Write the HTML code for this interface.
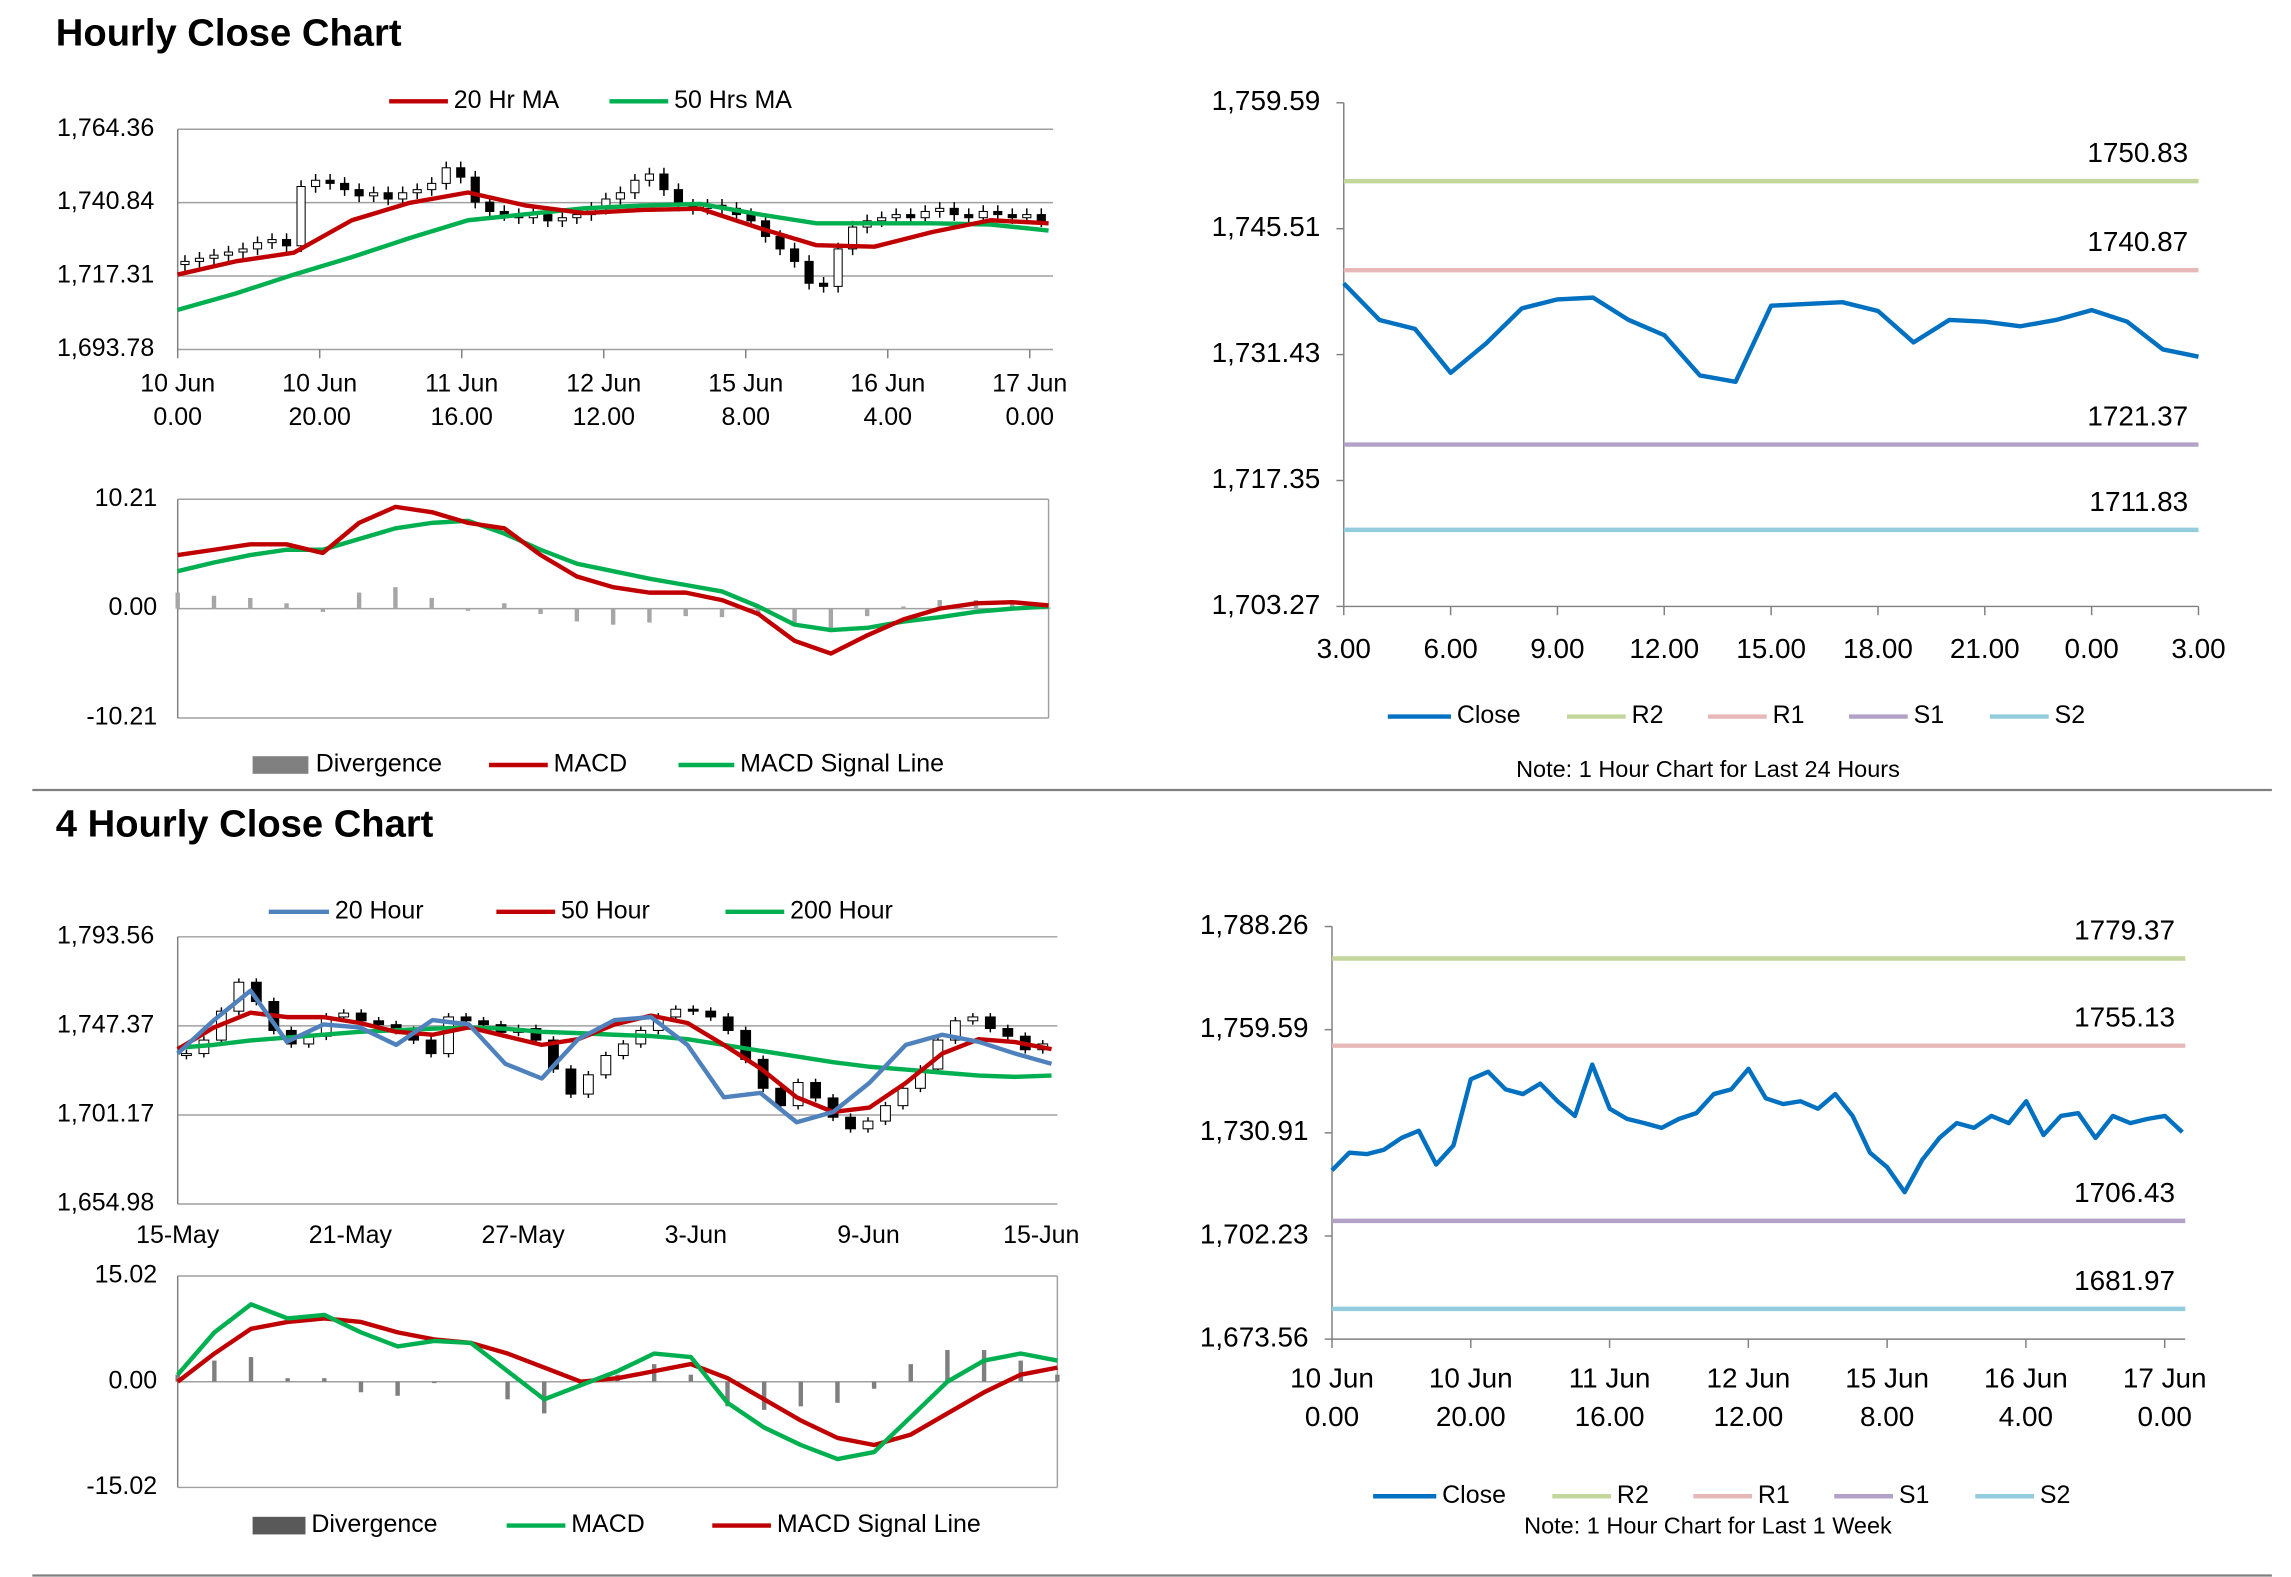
<!DOCTYPE html>
<html><head><meta charset="utf-8"><style>
html,body{margin:0;padding:0;background:#fff;}
svg{display:block;font-family:"Liberation Sans",Arial,sans-serif;}
</style></head><body>
<svg id="s" width="2291" height="1577" viewBox="0 0 1560 1074" preserveAspectRatio="none" xmlns="http://www.w3.org/2000/svg"></svg>
<script>
// ===== DATA =====
const h1Close=[1722,1723,1724,1725,1726,1728,1729,1727,1746,1748,1747,1745,1743,1744,1742,1744,1745,1747,1752,1749,1741,1738,1737,1736,1737,1735,1736,1737,1739,1742,1744,1748,1750,1745,1740,1739,1740,1739,1737,1735,1730,1726,1722,1715,1714,1726,1733,1735,1736,1737,1736,1738,1739,1737,1736,1738,1737,1736,1737,1735];
const h1MA20=[1717.8,1722.0,1724.8,1735.2,1740.8,1744.1,1739.9,1737.5,1738.5,1738.9,1732.8,1727.2,1726.7,1731.4,1735.2,1734.2];
const h1MA50=[1706.5,1711.7,1717.8,1723.4,1729.5,1735.2,1737.1,1739.0,1739.9,1740.4,1737.1,1734.2,1734.2,1734.2,1733.8,1731.9];
const h1Ticks=[1764.36,1740.84,1717.31,1693.78];
const h1XLabels=[["10 Jun","0.00"],["10 Jun","20.00"],["11 Jun","16.00"],["12 Jun","12.00"],["15 Jun","8.00"],["16 Jun","4.00"],["17 Jun","0.00"]];
const m1Macd=[5,5.5,6,6,5.2,8,9.5,9,8,7.5,5,3,2,1.5,1.5,0.8,-0.5,-3,-4.2,-2.5,-1,0,0.5,0.6,0.3];
const m1Signal=[3.5,4.3,5,5.5,5.5,6.5,7.5,8,8.2,7,5.5,4.2,3.5,2.8,2.2,1.6,0.2,-1.5,-2,-1.8,-1.2,-0.8,-0.3,0,0.2];
const m1Ticks=["10.21","0.00","-10.21"];
const r1Close=[1739.4,1735.3,1734.3,1729.4,1732.7,1736.6,1737.6,1737.8,1735.3,1733.6,1729.1,1728.4,1736.9,1737.1,1737.3,1736.3,1732.8,1735.3,1735.1,1734.6,1735.3,1736.4,1735.1,1732.0,1731.2];
const r1Levels=[1750.83,1740.87,1721.37,1711.83];
const r1Ticks=[1759.59,1745.51,1731.43,1717.35,1703.27];
const r1XLabels=["3.00","6.00","9.00","12.00","15.00","18.00","21.00","0.00","3.00"];
const h4Close=[1733,1740,1755,1770,1760,1745,1738,1742,1752,1754,1750,1748,1745,1740,1733,1752,1750,1748,1744,1746,1740,1725,1712,1722,1732,1738,1745,1752,1756,1755,1752,1745,1730,1715,1706,1718,1710,1700,1694,1698,1706,1715,1725,1740,1750,1752,1746,1742,1735,1738];
const h4MA20=[1733.0,1750.4,1765.6,1739.1,1748.1,1746.6,1737.5,1750.4,1748.1,1727.7,1720.1,1740.5,1750.4,1751.9,1737.5,1710.3,1712.6,1697.4,1702.7,1717.8,1737.5,1742.8,1739.1,1733.0,1727.7];
const h4MA50=[1735.3,1746.6,1754.2,1751.9,1751.9,1748.9,1744.3,1742.8,1746.6,1742.1,1737.5,1740.5,1748.1,1752.7,1748.9,1737.5,1725.4,1710.3,1702.7,1705.0,1717.8,1733.0,1740.5,1739.0,1735.3];
const h4MA200=[1736.0,1737.5,1739.8,1741.3,1742.8,1744.3,1745.1,1745.9,1746.6,1745.9,1744.3,1743.6,1742.8,1742.1,1740.5,1737.5,1734.5,1731.5,1728.5,1726.2,1724.7,1723.1,1721.6,1720.9,1721.6];
const h4Ticks=[1793.56,1747.37,1701.17,1654.98];
const h4XLabels=["15-May","21-May","27-May","3-Jun","9-Jun","15-Jun"];
const m2Macd=[1,7,11,9,9.5,7,5,5.8,5.5,1.5,-2.5,-0.5,1.5,4,3.5,-3,-6.5,-9,-11,-10,-5,0,3,4,3];
const m2Signal=[0,4,7.5,8.5,9,8.5,7,6,5.5,4,2,0,0.5,1.5,2.5,0.5,-2.5,-5.5,-8,-9,-7.5,-4.5,-1.5,1,2];
const m2Ticks=["15.02","0.00","-15.02"];
const r2Close=[1720.5,1725.4,1725.0,1726.2,1729.5,1731.5,1722.1,1727.4,1745.8,1747.9,1743.0,1741.7,1744.6,1739.7,1735.6,1749.9,1737.6,1734.8,1733.6,1732.3,1734.8,1736.4,1741.7,1743.0,1748.7,1740.5,1738.9,1739.7,1737.6,1741.7,1735.6,1725.4,1721.3,1714.4,1723.3,1729.5,1733.6,1732.3,1735.6,1733.6,1739.7,1730.3,1735.6,1736.4,1729.5,1735.6,1733.6,1734.8,1735.6,1731.1];
const r2Levels=[1779.37,1755.13,1706.43,1681.97];
const r2Ticks=[1788.26,1759.59,1730.91,1702.23,1673.56];
const r2XLabels=[["10 Jun","0.00"],["10 Jun","20.00"],["11 Jun","16.00"],["12 Jun","12.00"],["15 Jun","8.00"],["16 Jun","4.00"],["17 Jun","0.00"]];
const levelNames=["R2","R1","S1","S2"];
const levelColors=["#c3d69b","#e6b9b8","#b3a2c7","#93cddd"];

// ===== HELPERS =====
const S=document.getElementById('s');
function el(tag,attrs,name,parent){
  const e=document.createElementNS('http://www.w3.org/2000/svg',tag);
  for(const k in attrs)e.setAttribute(k,attrs[k]);
  
  
  (parent||S).appendChild(e);return e;
}
function txt(x,y,s,name,opt){
  opt=opt||{};
  const t=el('text',{x:x,y:y,'font-size':opt.fs||17,'text-anchor':opt.a||'start','font-weight':opt.fw||'normal',fill:'#000','dominant-baseline':'middle'},name);
  t.textContent=s;return t;
}
function lin(v0,v1,p0,p1){return v=>p0+(v-v0)/(v1-v0)*(p1-p0);}
function poly(pts,color,w,name){el('polyline',{points:pts.map(p=>p[0].toFixed(1)+','+p[1].toFixed(1)).join(' '),fill:'none',stroke:color,'stroke-width':w,'stroke-linejoin':'round'},name);}
function legendLine(x1,x2,y,color,label,name,w){
  el('line',{x1:x1,y1:y,x2:x2,y2:y,stroke:color,'stroke-width':w||3},name+'-swatch');
  txt(x2+4,y,label,name);
}
function hline(x1,x2,y,color,name,w){el('line',{x1:x1,y1:y,x2:x2,y2:y,stroke:color,'stroke-width':w||1},name);}

// ===== TITLES & SEPARATORS =====
txt(38,24,"Hourly Close Chart","title-hourly",{fs:26,fw:'bold'});
txt(38,563,"4 Hourly Close Chart","title-4hourly",{fs:26,fw:'bold'});
hline(22,1547,538,'#808080','section-separator',1.5);
hline(22,1547,1073,'#808080','bottom-separator',1.5);

// ===== CANDLE CHART =====
function candleChart(o){
  const y=lin(o.ticks[0],o.ticks[o.ticks.length-1],o.top,o.bot);
  o.ticks.forEach((t,i)=>{
    hline(o.left,o.right,y(t),'#a0a0a0','gridline-'+o.id);
    txt(o.left-16,y(t),t.toLocaleString('en-US',{minimumFractionDigits:2}),'y-tick-label-'+o.id,{a:'end'});
  });
  el('line',{x1:o.left,y1:o.top,x2:o.left,y2:o.bot,stroke:'#808080'},'y-axis-'+o.id);
  const n=o.close.length, step=(o.cr-o.left)/n;
  const cx=i=>o.left+step*(i+0.5);
  o.close.forEach((c,i)=>{
    const op=i===0?c-1:o.close[i-1];
    const hi=Math.max(c,op)+2, lo=Math.min(c,op)-2;
    el('line',{x1:cx(i),y1:y(hi),x2:cx(i),y2:y(lo),stroke:'#000','stroke-width':1},'candle-wick');
    const t=Math.min(y(c),y(op)),b=Math.max(y(c),y(op));
    el('rect',{x:cx(i)-step*0.28,y:t,width:step*0.56,height:Math.max(b-t,1),fill:c>=op?'#fff':'#000',stroke:'#000','stroke-width':0.7},'candle');
  });
  o.mas.forEach(m=>{
    const st=(o.cr-o.left)/(m.v.length-1);
    poly(m.v.map((v,i)=>[o.left+st*i,y(v)]),m.c,3,m.n);
  });
}
candleChart({id:'h1',left:121,right:717,cr:714,top:88,bot:238,ticks:h1Ticks,close:h1Close,
  mas:[{v:h1MA50,c:'#00b050',n:'ma50-line'},{v:h1MA20,c:'#c00000',n:'ma20-line'}]});
h1XLabels.forEach((l,i)=>{const x=121+i*96.7;
  el('line',{x1:x,y1:238,x2:x,y2:244,stroke:'#808080'},'x-tick');
  txt(x,262,l[0],'x-tick-label-h1',{a:'middle'});txt(x,285,l[1],'x-tick-label-h1',{a:'middle'});});
legendLine(265,305,69,'#c00000','20 Hr MA','legend-20hr-ma');
legendLine(415,455,69,'#00b050','50 Hrs MA','legend-50hrs-ma');

candleChart({id:'h4',left:121,right:720,cr:716,top:638,bot:820,ticks:h4Ticks,close:h4Close,
  mas:[{v:h4MA200,c:'#00b050',n:'ma200-line'},{v:h4MA50,c:'#c00000',n:'ma50-line'},{v:h4MA20,c:'#4f81bd',n:'ma20-line'}]});
h4XLabels.forEach((l,i)=>{txt(121+i*117.6,842,l,'x-tick-label-h4',{a:'middle'});});
legendLine(183,224,621,'#4f81bd','20 Hour','legend-20-hour');
legendLine(338,378,621,'#c00000','50 Hour','legend-50-hour');
legendLine(494,534,621,'#00b050','200 Hour','legend-200-hour');

// ===== MACD =====
function macd(o){
  const y=lin(o.max,-o.max,o.top,o.bot);
  [o.max,0,-o.max].forEach((t,i)=>{
    hline(o.left,o.right,y(t),'#a0a0a0','gridline-'+o.id);
    txt(o.left-14,y(t),o.ticks[i],'y-tick-label-'+o.id,{a:'end'});
  });
  el('line',{x1:o.left,y1:o.top,x2:o.left,y2:o.bot,stroke:'#808080'},'y-axis-'+o.id);
  el('line',{x1:o.right,y1:o.top,x2:o.right,y2:o.bot,stroke:'#a0a0a0'},'right-border-'+o.id);
  const st=(o.right-o.left)/(o.macd.length-1);
  o.macd.forEach((m,i)=>{
    const d=m-o.signal[i];const x=o.left+st*i;
    el('rect',{x:x-1.5,y:Math.min(y(0),y(d)),width:3,height:Math.abs(y(d)-y(0)),fill:o.barC},'divergence-bar');
  });
  poly(o.signal.map((v,i)=>[o.left+st*i,y(v)]),o.sigC,3,'signal-line');
  poly(o.macd.map((v,i)=>[o.left+st*i,y(v)]),o.macC,3,'macd-line');
}
macd({id:'m1',left:121,right:714,top:340,bot:489,max:10.21,ticks:m1Ticks,macd:m1Macd,signal:m1Signal,macC:'#c00000',sigC:'#00b050',barC:'#a6a6a6'});
el('rect',{x:172,y:515,width:38,height:12,fill:'#808080'},'legend-divergence-swatch');
txt(215,521,'Divergence','legend-divergence');
legendLine(333,373,521,'#c00000','MACD','legend-macd');
legendLine(462,500,521,'#00b050','MACD Signal Line','legend-macd-signal');

macd({id:'m2',left:121,right:720,top:869,bot:1013,max:15.02,ticks:m2Ticks,macd:m2Macd,signal:m2Signal,macC:'#00b050',sigC:'#c00000',barC:'#7f7f7f'});
el('rect',{x:172,y:1033,width:36,height:12,fill:'#595959'},'legend-divergence-swatch');
txt(212,1039,'Divergence','legend-divergence');
legendLine(345,385,1039,'#00b050','MACD','legend-macd');
legendLine(485,525,1039,'#c00000','MACD Signal Line','legend-macd-signal');

// ===== CLOSE / LEVEL CHARTS =====
function levels(o){
  const y=lin(o.ticks[0],o.ticks[o.ticks.length-1],o.top,o.bot);
  el('line',{x1:o.left,y1:o.top,x2:o.left,y2:o.bot,stroke:'#808080'},'y-axis-'+o.id);
  el('line',{x1:o.left,y1:o.bot,x2:o.right,y2:o.bot,stroke:'#808080'},'x-axis-'+o.id);
  o.ticks.forEach(t=>{
    el('line',{x1:o.left-5,y1:y(t),x2:o.left,y2:y(t),stroke:'#808080'},'y-tick');
    txt(o.left-16,y(t),t.toLocaleString('en-US',{minimumFractionDigits:2}),'y-tick-label-'+o.id,{a:'end',fs:19});
  });
  o.levels.forEach((v,i)=>{
    hline(o.left,o.right,y(v),levelColors[i],'level-'+levelNames[i].toLowerCase(),3);
    txt(o.right-7,y(v)-18,v.toFixed(2),'level-label-'+levelNames[i].toLowerCase(),{a:'end',fs:19});
  });
  const st=(o.cend-o.left)/(o.close.length-1);
  poly(o.close.map((v,i)=>[o.left+st*i,y(v)]),'#0070c0',3,'close-line');
  const lx=o.legX;
  legendLine(lx,lx+43,o.legY,'#0070c0','Close','legend-close');
  levelNames.forEach((n,i)=>legendLine(lx+122+i*96,lx+162+i*96,o.legY,levelColors[i],n,'legend-'+n.toLowerCase()));
}
levels({id:'r1',left:915,right:1497,cend:1497,top:70,bot:413,ticks:r1Ticks,levels:r1Levels,close:r1Close,legX:945,legY:488});
r1XLabels.forEach((l,i)=>{const x=915+i*72.75;
  el('line',{x1:x,y1:413,x2:x,y2:419,stroke:'#808080'},'x-tick');
  txt(x,443,l,'x-tick-label-r1',{a:'middle',fs:19});});
txt(1163,525,'Note: 1 Hour Chart for Last 24 Hours','note-24-hours',{a:'middle',fs:16});

levels({id:'r2',left:907,right:1488,cend:1486,top:631,bot:912,ticks:r2Ticks,levels:r2Levels,close:r2Close,legX:935,legY:1019});
r2XLabels.forEach((l,i)=>{const x=907+i*94.5;
  el('line',{x1:x,y1:912,x2:x,y2:918,stroke:'#808080'},'x-tick');
  txt(x,940,l[0],'x-tick-label-r2',{a:'middle',fs:19});txt(x,966,l[1],'x-tick-label-r2',{a:'middle',fs:19});});
txt(1163,1040,'Note: 1 Hour Chart for Last 1 Week','note-1-week',{a:'middle',fs:16});
</script>
</body></html>
